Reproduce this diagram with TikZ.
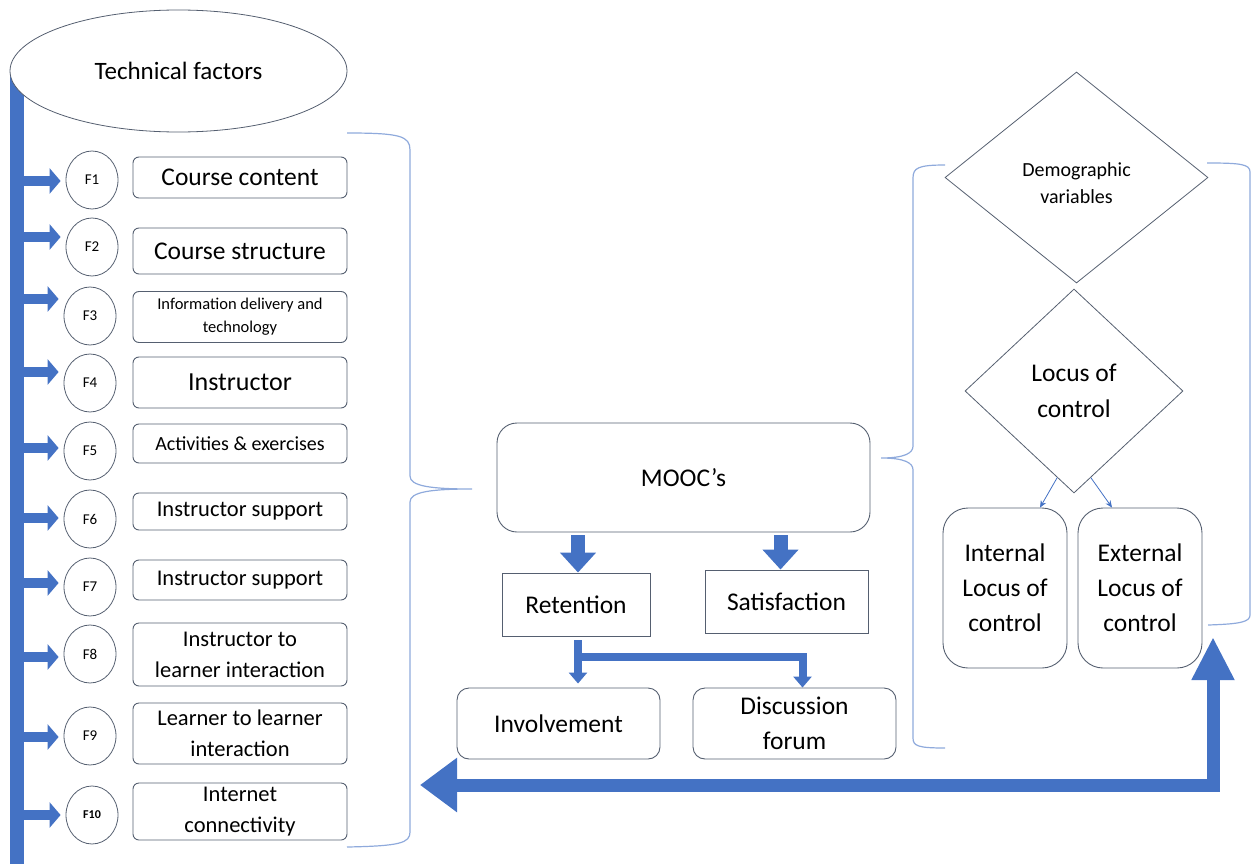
\documentclass[tikz,border=0pt]{standalone}
\usepackage{fontspec}
\setmainfont{Carlito}
\usetikzlibrary{shapes.geometric,arrows.meta}

\definecolor{barblue}{RGB}{68,114,196}
\definecolor{edgegray}{RGB}{85,95,112}
\definecolor{bracecol}{RGB}{143,170,220}
\newcommand{\fsz}[2]{\fontsize{#1}{#2}\selectfont}

\begin{document}
\begin{tikzpicture}[x=1pt, y=-1pt,
        % Stili generali
        factor/.style={draw=edgegray, line width=0.9pt, rounded corners=6pt, minimum width=214pt, align=center, inner sep=1pt},
        fcirc/.style={draw=edgegray, line width=0.8pt, ellipse, minimum width=52pt, minimum height=58pt, inner sep=0pt, font=\fsz{15}{16}},
        plainbox/.style={draw=edgegray, line width=0.9pt, align=center, inner sep=1pt, font=\fsz{25.5}{35}},
        softbox/.style={plainbox, rounded corners=12pt},
        choice/.style={draw=edgegray, line width=0.8pt, diamond, inner sep=0pt, align=center},
        spine/.style={draw=barblue, line width=14pt},
        feed/.style={draw=barblue, line width=10pt, -{Triangle[width=25pt,length=11pt]}, shorten >=5pt},
        drop/.style={draw=barblue, line width=14pt, -{Triangle[width=35pt,length=20pt]}, shorten <=3pt},
        branch/.style={draw=barblue, line width=8pt, -{Triangle[width=18pt,length=11pt]}},
        feedback/.style={draw=barblue, line width=13pt, {Triangle[width=52pt,length=37pt]}-{Triangle[width=40pt,length=43pt]}},
        thinarrow/.style={draw=barblue, line width=0.8pt, -{Stealth[length=7pt,width=6pt]}},
        brace/.style={draw=bracecol, line width=1.2pt}
    ]
    \useasboundingbox (0,0) rectangle (1252,864);

    % 1. Colonna dei fattori tecnici
    \coordinate (bartop) at (17,72);
    \coordinate (barend) at (17,864);
    \draw[spine] (bartop) -- (barend);
    \node[draw=edgegray, line width=0.8pt, ellipse, fill=white, minimum width=337pt, minimum height=122pt, font=\fsz{25}{28}] (tech) at (178.5,71) {Technical factors};

    % 2. Fattori F1 ... F10
    \node[fcirc] (f1) at (92,180) {F1};
    \node[fcirc] (f2) at (92,247) {F2};
    \node[fcirc] (f3) at (90,316) {F3};
    \node[fcirc] (f4) at (90,383) {F4};
    \node[fcirc] (f5) at (90,451) {F5};
    \node[fcirc] (f6) at (90,519) {F6};
    \node[fcirc] (f7) at (90,587) {F7};
    \node[fcirc] (f8) at (90,654) {F8};
    \node[fcirc] (f9) at (90,736) {F9};
    \node[fcirc, font=\fsz{12}{14}\bfseries] (f10) at (92,815) {F10};

    \node[factor, minimum height=41pt, font=\fsz{25.5}{30}] (c1) at (240,177.5) {Course content};
    \node[factor, minimum height=46pt, font=\fsz{25.5}{30}] (c2) at (240,251) {Course structure};
    \node[factor, minimum height=51pt, font=\fsz{16.5}{23}] (c3) at (240,317) {Information delivery and\\technology};
    \node[factor, minimum height=51pt, font=\fsz{26}{30}] (c4) at (240,382.5) {Instructor};
    \node[factor, minimum height=39pt, font=\fsz{20}{24}] (c5) at (240,443.5) {Activities \& exercises};
    \node[factor, minimum height=37pt, font=\fsz{22.5}{26}] (c6) at (240,511.5) {Instructor support};
    \node[factor, minimum height=40pt, font=\fsz{22.5}{26}] (c7) at (240,580) {Instructor support};
    \node[factor, minimum height=63pt, font=\fsz{22.5}{31}] (c8) at (240,654.5) {Instructor to\\learner interaction};
    \node[factor, minimum height=61pt, font=\fsz{22.5}{31}] (c9) at (240,733.5) {Learner to learner\\interaction};
    \node[factor, minimum height=57pt, font=\fsz{22.5}{31}] (c10) at (240,811.5) {Internet\\connectivity};

    % 3. Frecce dalla colonna
    \draw[feed] ([yshift=-1pt]f1.west -| bartop) -- ([yshift=-1pt]f1.west);
    \draw[feed] ([yshift=10pt]f2.west -| bartop) -- ([yshift=10pt]f2.west);
    \draw[feed] ([yshift=17pt]f3.west -| bartop) -- ([yshift=17pt]f3.west);
    \draw[feed] ([yshift=11pt]f4.west -| bartop) -- ([yshift=11pt]f4.west);
    \draw[feed] ([yshift=3pt]f5.west -| bartop) -- ([yshift=3pt]f5.west);
    \draw[feed] ([yshift=1pt]f6.west -| bartop) -- ([yshift=1pt]f6.west);
    \draw[feed] ([yshift=4pt]f7.west -| bartop) -- ([yshift=4pt]f7.west);
    \draw[feed] ([yshift=-3pt]f8.west -| bartop) -- ([yshift=-3pt]f8.west);
    \draw[feed] ([yshift=-1pt]f9.west -| bartop) -- ([yshift=-1pt]f9.west);
    \draw[feed] (f10.west -| bartop) -- (f10.west);

    % 4. Parentesi graffa dei fattori
    \draw[brace] (347,133) .. controls (400,133) and (410,136) .. (410,150) -- (410,476)
        .. controls (410,486) and (430,489) .. (472,489)
        .. controls (430,489) and (410,492) .. (410,502) -- (410,832)
        .. controls (410,843) and (400,846) .. (347,847);

    % 5. MOOC e risultati
    \node[plainbox, rounded corners=20pt, minimum width=373pt, minimum height=109pt] (moocs) at (683.5,477.5) {MOOC’s};
    \node[plainbox, minimum width=148pt, minimum height=63pt] (ret) at (576,604.5) {Retention};
    \node[plainbox, minimum width=163pt, minimum height=63pt] (sat) at (786.5,601.5) {Satisfaction};
    \node[softbox, minimum width=203pt, minimum height=71pt] (inv) at (558.5,723.5) {Involvement};
    \node[softbox, minimum width=203pt, minimum height=71pt] (disc) at (794.5,723.5) {Discussion\\forum};

    \draw[drop] ([xshift=2pt]ret.north |- moocs.south) -- ([xshift=2pt]ret.north);
    \draw[drop] ([xshift=-6pt]sat.north |- moocs.south) -- ([xshift=-6pt]sat.north);
    \draw[branch] ([xshift=2pt, yshift=-4pt]ret.south) -- ([xshift=2pt, yshift=4pt]ret.south |- inv.north);
    \draw[branch] ([xshift=-2pt, yshift=-21pt]ret.south) -| ([xshift=8pt]disc.north);

    % 6. Variabili demografiche e locus of control
    \node[choice, minimum width=263pt, minimum height=211pt, font=\fsz{20}{27}] (demo) at (1076.5,177.5) {\rule{0pt}{26pt}Demographic\\variables};
    \node[choice, minimum width=218pt, minimum height=204pt, font=\fsz{25.5}{36}] (loc) at (1074,391) {Locus of\\control};
    \node[plainbox, rounded corners=25pt, minimum width=124pt, minimum height=160pt] (int) at (1005,588) {Internal\\Locus of\\control};
    \node[plainbox, rounded corners=25pt, minimum width=124pt, minimum height=160pt] (ext) at (1140,588) {External\\Locus of\\control};

    \draw[thinarrow] (loc.-101) -- ([xshift=35pt]int.north);
    \draw[thinarrow] (loc.-79) -- ([xshift=-28pt]ext.north);

    % 7. Parentesi del blocco a destra
    \draw[brace] (945,165) .. controls (918,165) and (913,168) .. (913,178) -- (913,446)
        .. controls (913,453) and (905,458) .. (881,458)
        .. controls (905,458) and (913,463) .. (913,470) -- (913,738)
        .. controls (913,746) and (918,748) .. (945,748);
    \draw[brace] (1207,163) .. controls (1240,163) and (1250,164) .. (1250,172) -- (1250,615)
        .. controls (1250,622) and (1240,624) .. (1208,625);

    % 8. Freccia di ritorno
    \coordinate (backtip) at (420,785);
    \coordinate (uptip) at (1213,637);
    \draw[feedback] (backtip) -- (backtip -| uptip) -- (uptip);

\end{tikzpicture}
\end{document}
